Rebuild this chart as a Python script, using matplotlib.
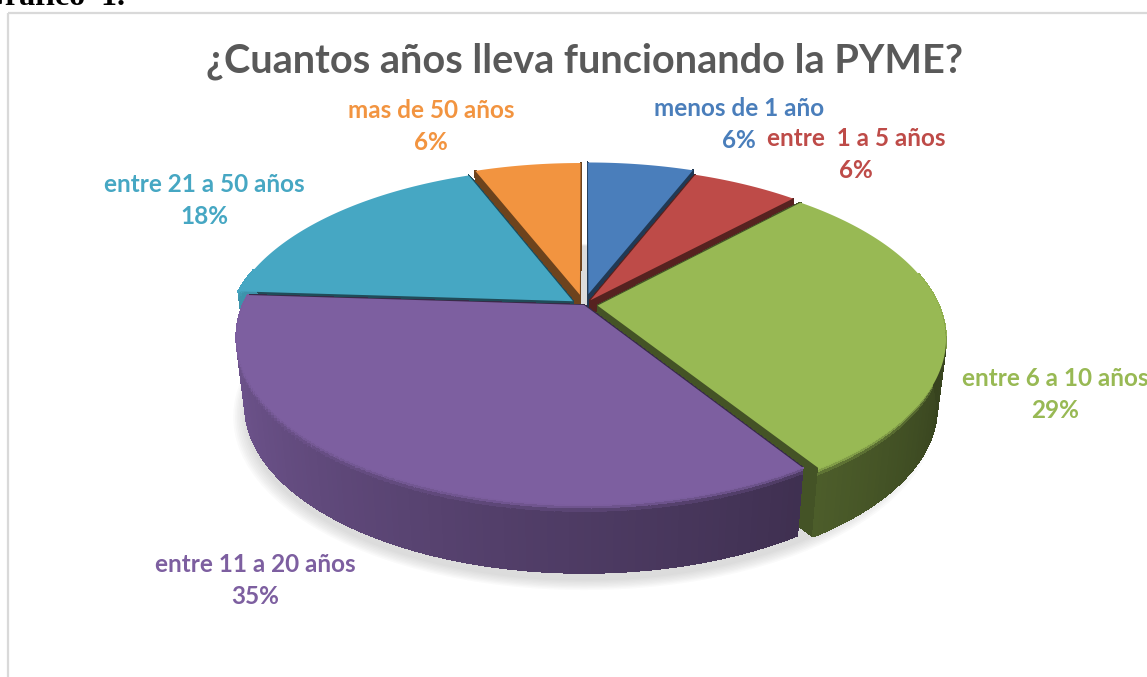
import numpy as np
import matplotlib
matplotlib.use("Agg")
import matplotlib.pyplot as plt
from matplotlib.collections import PolyCollection
from matplotlib.colors import to_rgb
from matplotlib.patches import Polygon, Rectangle
from matplotlib.path import Path
from matplotlib.transforms import Affine2D, Transform

title = "¿Cuantos años lleva funcionando la PYME?"
categories = ["menos de 1 año", "entre  1 a 5 años", "entre 6 a 10 años",
              "entre 11 a 20 años", "entre 21 a 50 años", "mas de 50 años"]
values = [6, 6, 29, 35, 18, 6]
colors = ["#4a7ebb", "#be4b48", "#98b954", "#7d5fa0", "#46a7c3", "#f29440"]
explode = [0.07, 0.035, 0.04, 0.0, 0.04, 0.065]
label_pos = [(739, 125), (856, 155), (1055, 395), (255, 580), (204, 201), (431, 126)]
draw_order = [0, 5, 1, 4, 2, 3]

plt.rcParams["font.family"] = ["Lato", "DejaVu Sans"]
CX, CY, A, B, K, DEPTH = 584.0, 305.0, 161.0, 341.0, 0.194, 68.0


def project(x, y, d=0.0):
    s = 1.0 / (1.0 + K * np.asarray(y))
    sh = 1.0 - 0.025 * d
    return CX + B * np.asarray(x) * s * sh, CY - A * np.asarray(y) * s + DEPTH * d


class Persp(Transform):
    input_dims = output_dims = 2

    def transform_non_affine(self, xy):
        xy = np.asarray(xy)
        X, Y = project(xy[:, 0], xy[:, 1])
        return np.column_stack([X, Y])

    def transform_path_non_affine(self, path):
        poly = path.transformed(Affine2D().scale(3000)).to_polygons(closed_only=False)[0] / 3000
        return Path(self.transform_non_affine(poly))


fig = plt.figure(figsize=(11.47, 6.77), dpi=100, facecolor="white")
ax = fig.add_axes([0, 0, 1, 1])
wedges, _ = ax.pie(values, colors=colors, explode=explode, startangle=90,
                   counterclock=False, radius=1.0, center=(0, 0),
                   wedgeprops={"linewidth": 0})
ax.set_aspect("auto")
ax.set_xlim(0, 1147)
ax.set_ylim(677, 0)
ax.axis("off")

# frame of the chart area
ax.add_patch(Rectangle((8, 13), 1200, 800, fill=False, ec="#d9d9d9", lw=1.6, zorder=0))

# soft shadow beneath the pie
tt = np.radians(np.arange(0, 360, 3))
for i, grow in enumerate(np.linspace(1.035, 1.0, 8)):
    X, Y = project(np.cos(tt), np.sin(tt), 1.0)
    ax.add_patch(Polygon(np.column_stack([CX + (X - CX) * grow, CY + 8 + (Y - CY) * grow]),
                         fc="#7f7f7f", alpha=0.035, lw=0, zorder=1))


def shade(t):
    return 0.62 - 0.2 * np.cos(t) - 0.06 * np.cos(t) ** 3


persp = Persp() + ax.transData
levels = [(0.0, 0.035, 0.95), (0.035, 0.07, 0.7), (0.07, 0.12, 0.25), (0.12, 1.0, 0.0)]

for rank, idx in enumerate(draw_order):
    w = wedges[idx]
    base = np.array(to_rgb(colors[idx]))
    cx0, cy0 = w.center
    z = 10 + rank * 2
    polys, cols = [], []
    # the two radial cut faces
    for ang in (w.theta1, w.theta2):
        a = np.radians(ang)
        xs = np.array([cx0, cx0 + np.cos(a)])
        ys = np.array([cy0, cy0 + np.sin(a)])
        X0, Y0 = project(xs, ys, 0.0)
        X1, Y1 = project(xs, ys, 1.0)
        polys.append([(X0[0], Y0[0]), (X0[1], Y0[1]), (X1[1], Y1[1]), (X1[0], Y1[0])])
        cols.append(base * 0.45)
    # outer wall, shaded by direction; only the part facing the viewer
    angs = np.radians(np.linspace(w.theta1, w.theta2, max(int(w.theta2 - w.theta1) + 1, 2)))
    for a0, a1 in zip(angs[:-1], angs[1:]):
        am = 0.5 * (a0 + a1)
        if np.sin(am) > 0.2:
            continue
        f = shade(am)
        xa = cx0 + np.cos([a0, a1])
        ya = cy0 + np.sin([a0, a1])
        for d0, d1, glow in levels:
            X0, Y0 = project(xa, ya, d0)
            X1, Y1 = project(xa, ya, d1)
            polys.append([(X0[0], Y0[0]), (X0[1], Y0[1]), (X1[1], Y1[1]), (X1[0], Y1[0])])
            cols.append(base * (glow + (1 - glow) * f))
    ax.add_collection(PolyCollection(polys, facecolors=cols, edgecolors=cols,
                                     linewidths=0.8, antialiaseds=False, zorder=z))
    w.set_transform(persp)
    w.set_zorder(z + 1)

ax.text(584, 61, title, ha="center", va="center", fontsize=28.5, fontweight="bold",
        color="#595959", zorder=40)

for name, val, col, (lx, ly) in zip(categories, values, colors, label_pos):
    ax.text(lx, ly - 16, name, ha="center", va="center", fontsize=17.5,
            fontweight="bold", color=col, zorder=40, clip_on=True)
    ax.text(lx, ly + 16, f"{val}%", ha="center", va="center", fontsize=17.5,
            fontweight="bold", color=col, zorder=40, clip_on=True)

ax.text(-20, 5, "Gráfico  1.", ha="left", va="baseline", fontsize=23, fontweight="bold",
        family="Liberation Serif", color="black", zorder=40, clip_on=True)

fig.savefig("out.png", dpi=100, facecolor="white")
